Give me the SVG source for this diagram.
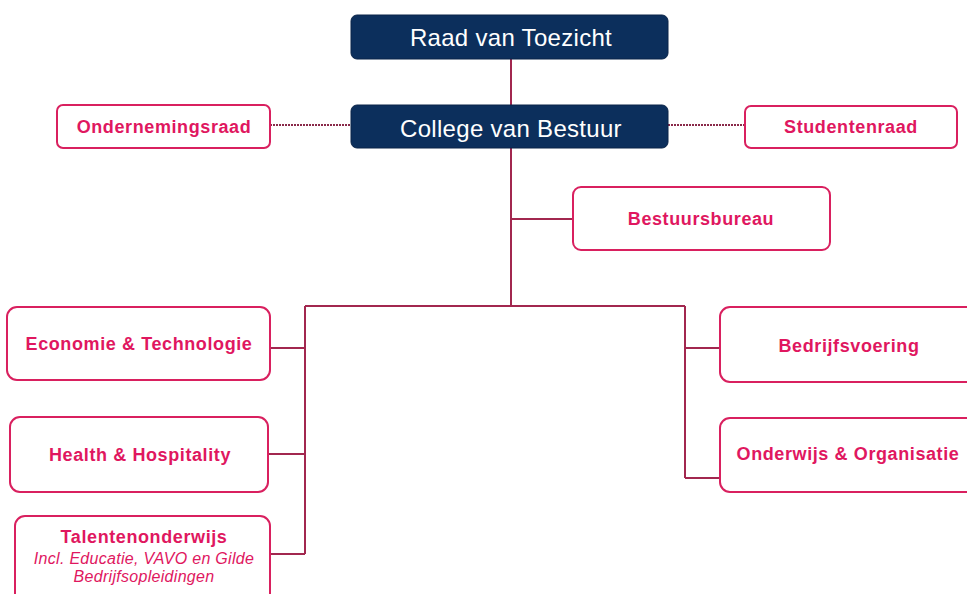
<svg xmlns="http://www.w3.org/2000/svg" width="967" height="594" viewBox="0 0 967 594">
<style>
.dark{fill:#0c2f5c;stroke:#0a2448;stroke-width:1}
.pink{fill:#ffffff;stroke:#d9205f;stroke-width:2}
.wt{font-family:"Liberation Sans",Arial,sans-serif;font-size:24px;letter-spacing:0.3px;fill:#ffffff;text-anchor:middle}
.pt{font-family:"Liberation Sans",Arial,sans-serif;font-size:18px;letter-spacing:0.6px;font-weight:bold;fill:#e0175f;text-anchor:middle}
.it{font-family:"Liberation Sans",Arial,sans-serif;font-size:16px;letter-spacing:0.3px;font-style:italic;fill:#e0175f;text-anchor:middle}
.ln{fill:none;stroke:#a2274f;stroke-width:2}
.dot{fill:none;stroke:#8a2a4a;stroke-width:2;stroke-dasharray:2 1}
</style>
<rect width="967" height="594" fill="#ffffff"/>
<g id="connectors">
<path class="ln" d="M511 59V105"/>
<path class="ln" d="M511 148V306"/>
<path class="ln" d="M511 219H573"/>
<path class="ln" d="M305 306H685"/>
<path class="ln" d="M305 306V554"/>
<path class="ln" d="M270 348H305"/>
<path class="ln" d="M268 454H305"/>
<path class="ln" d="M270 554H305"/>
<path class="ln" d="M685 306V478"/>
<path class="ln" d="M685 348H720"/>
<path class="ln" d="M685 478H720"/>
<path class="dot" d="M270 125H352"/>
<path class="dot" d="M668 125H745"/>
</g>
<g id="raad-van-toezicht">
<rect class="dark" x="351" y="15" width="317" height="44" rx="6"/>
<text class="wt" x="511" y="46">Raad van Toezicht</text>
</g>
<g id="college-van-bestuur">
<rect class="dark" x="351" y="105" width="317" height="43" rx="6"/>
<text class="wt" x="511" y="137">College van Bestuur</text>
</g>
<g id="ondernemingsraad">
<rect class="pink" x="57" y="105" width="213" height="43" rx="6"/>
<text class="pt" x="164" y="133">Ondernemingsraad</text>
</g>
<g id="studentenraad">
<rect class="pink" x="745" y="106" width="212" height="42" rx="6"/>
<text class="pt" x="851" y="133">Studentenraad</text>
</g>
<g id="bestuursbureau">
<rect class="pink" x="573" y="187" width="257" height="63" rx="8"/>
<text class="pt" x="701" y="225">Bestuursbureau</text>
</g>
<g id="economie-technologie">
<rect class="pink" x="7" y="307" width="263" height="73" rx="10"/>
<text class="pt" x="139" y="350">Economie &amp; Technologie</text>
</g>
<g id="health-hospitality">
<rect class="pink" x="10" y="417" width="258" height="75" rx="10"/>
<text class="pt" x="140" y="461">Health &amp; Hospitality</text>
</g>
<g id="talentenonderwijs">
<rect class="pink" x="15" y="516" width="255" height="90" rx="10"/>
<text class="pt" x="144" y="543">Talentenonderwijs</text>
<text class="it" x="144" y="564">Incl. Educatie, VAVO en Gilde</text>
<text class="it" x="144" y="582">Bedrijfsopleidingen</text>
</g>
<g id="bedrijfsvoering">
<rect class="pink" x="720" y="307" width="260" height="75" rx="10"/>
<text class="pt" x="849" y="352">Bedrijfsvoering</text>
</g>
<g id="onderwijs-organisatie">
<rect class="pink" x="720" y="418" width="260" height="74" rx="10"/>
<text class="pt" x="848" y="460">Onderwijs &amp; Organisatie</text>
</g>
</svg>
